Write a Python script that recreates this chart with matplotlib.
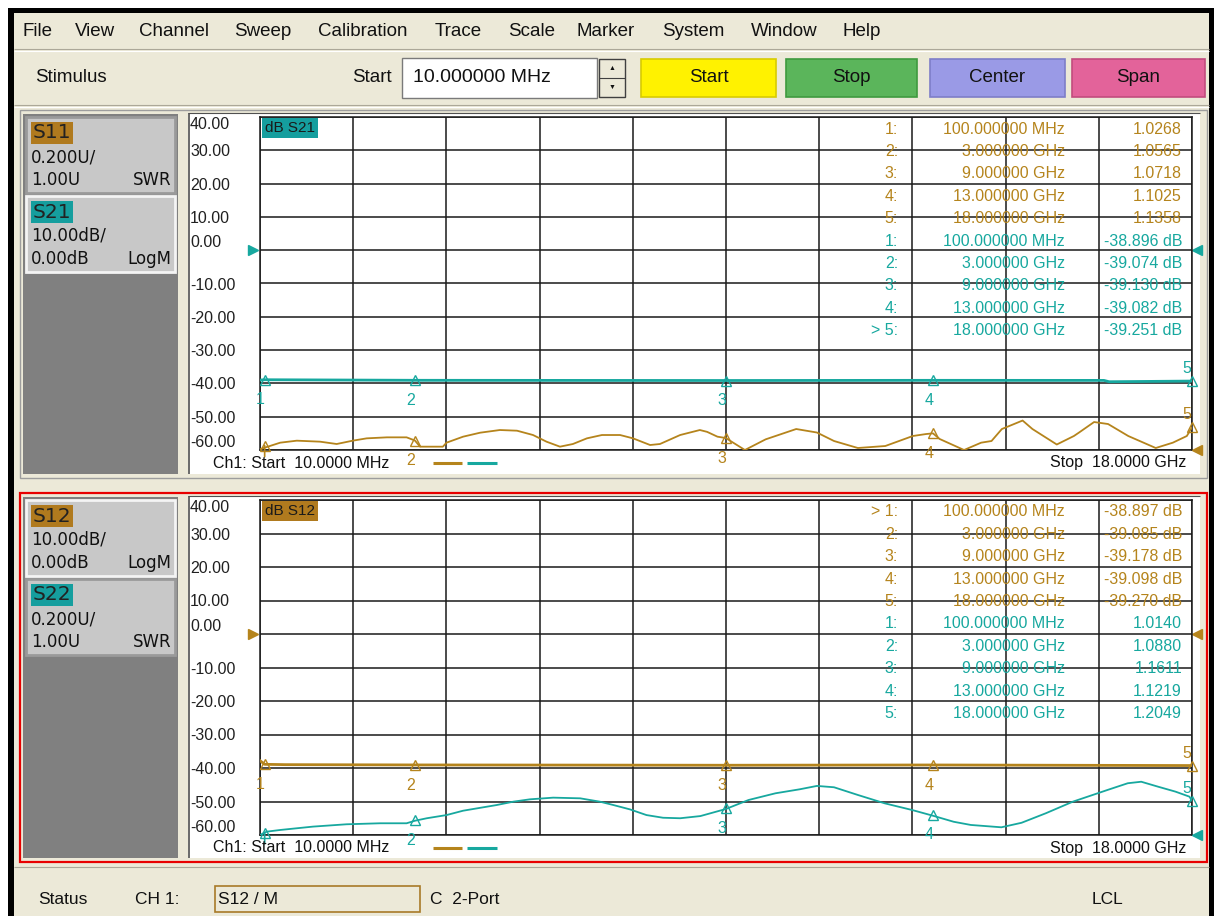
import numpy as np
import matplotlib.pyplot as plt
from matplotlib.patches import Rectangle

plt.rcParams['font.family'] = ['Liberation Sans', 'DejaVu Sans']

W, H = 1216, 916

# ---- sweep / marker settings (GHz) ----
f_start = 0.01
f_stop = 18.0
marker_freqs = [0.1, 3.0, 9.0, 13.0, 18.0]

# marker readouts
s11_marks = [1.0268, 1.0565, 1.0718, 1.1025, 1.1358]          # SWR
s21_marks = [-38.896, -39.074, -39.130, -39.082, -39.251]     # dB
s12_marks = [-38.897, -39.085, -39.178, -39.098, -39.270]     # dB
s22_marks = [1.0140, 1.0880, 1.1611, 1.1219, 1.2049]          # SWR

# traces
s21_f = [0.01, 0.1, 3.0, 6.0, 9.0, 13.0, 16.3, 16.4, 18.0]
s21_db = [-39.0, -38.9, -39.07, -39.1, -39.13, -39.08, -39.1, -39.5, -39.3]

s11_f = [0.01, 0.20, 0.40, 0.72, 1.17, 1.49, 1.80, 2.07, 2.46, 2.84,
         3.00, 3.10, 3.54, 3.61, 3.93, 4.26, 4.64, 4.97, 5.28, 5.54,
         5.80, 6.05, 6.32, 6.61, 6.96, 7.21, 7.54, 7.73, 8.12, 8.50,
         8.64, 8.84, 9.00, 9.37, 9.77, 10.36, 10.76, 11.09, 11.55, 12.08,
         12.61, 12.87, 13.00, 13.13, 13.60, 13.93, 14.13, 14.33, 14.73, 14.92,
         15.39, 15.72, 15.82, 16.11, 16.38, 16.77, 17.30, 17.63, 17.90, 18.00]
s11_swr = [1.005, 1.024, 1.044, 1.056, 1.050, 1.036, 1.056, 1.070, 1.076, 1.076,
           1.057, 1.020, 1.020, 1.044, 1.080, 1.104, 1.120, 1.116, 1.090, 1.050,
           1.020, 1.036, 1.070, 1.090, 1.090, 1.070, 1.030, 1.036, 1.090, 1.120,
           1.109, 1.080, 1.072, 1.000, 1.064, 1.126, 1.105, 1.054, 1.012, 1.024,
           1.084, 1.096, 1.100, 1.066, 1.000, 1.044, 1.054, 1.126, 1.177, 1.126,
           1.033, 1.084, 1.105, 1.168, 1.156, 1.084, 1.012, 1.044, 1.084, 1.136]

s12_f = [0.01, 0.1, 0.5, 3.0, 9.0, 13.0, 18.0]
s12_db = [-37.8, -38.9, -39.0, -39.085, -39.178, -39.098, -39.27]

s22_f = [0.01, 0.14, 0.40, 1.03, 1.68, 2.33, 2.84, 3.00, 3.23, 3.61,
         3.93, 4.58, 4.90, 5.22, 5.67, 6.19, 6.57, 6.83, 7.15, 7.47,
         7.79, 8.12, 8.51, 9.00, 9.44, 9.96, 10.43, 10.76, 11.09, 11.55,
         12.07, 12.60, 13.00, 13.40, 13.73, 14.32, 14.71, 15.18, 15.70, 16.37,
         16.76, 17.02, 17.35, 17.68, 17.95, 18.00]
s22_swr = [1.000, 1.020, 1.030, 1.050, 1.064, 1.070, 1.070, 1.085, 1.100, 1.119,
           1.145, 1.179, 1.199, 1.213, 1.223, 1.219, 1.199, 1.179, 1.153, 1.119,
           1.103, 1.100, 1.113, 1.155, 1.209, 1.249, 1.273, 1.293, 1.285, 1.239,
           1.189, 1.149, 1.115, 1.079, 1.060, 1.046, 1.073, 1.130, 1.199, 1.269,
           1.309, 1.318, 1.288, 1.259, 1.229, 1.205]

db_ticks = [-60, -50, -40, -30, -20, -10, 0, 10, 20, 30, 40]

menu_items = ['File', 'View', 'Channel', 'Sweep', 'Calibration', 'Trace',
              'Scale', 'Marker', 'System', 'Window', 'Help']
button_names = ['Start', 'Stop', 'Center', 'Span']

# ---- colours ----
BEIGE = '#ECE9D8'
BROWN = '#B5841C'
TEAL = '#17A89F'
BROWN_BG = '#B07A1E'
TEAL_BG = '#159E9E'
GRID = '#1A1A1A'

fig = plt.figure(figsize=(W / 100, H / 100), dpi=100)


def px(x0, y0, x1, y1):
    return [x0 / W, 1 - y1 / H, (x1 - x0) / W, (y1 - y0) / H]


bg = fig.add_axes([0, 0, 1, 1], zorder=0)
fg = fig.add_axes([0, 0, 1, 1], zorder=10)
for a in (bg, fg):
    a.set_xlim(0, W)
    a.set_ylim(H, 0)
    a.set_axis_off()


def rect(x0, y0, x1, y1, fc, ec='none', lw=0.0, z=1):
    bg.add_patch(Rectangle((x0, y0), x1 - x0, y1 - y0, facecolor=fc,
                           edgecolor=ec, linewidth=lw, zorder=z))


def hline(y, x0, x1, c, lw=0.8, z=2):
    bg.plot([x0, x1], [y, y], color=c, lw=lw, zorder=z, solid_capstyle='butt')


def vline(x, y0, y1, c, lw=0.8, z=2):
    bg.plot([x, x], [y0, y1], color=c, lw=lw, zorder=z, solid_capstyle='butt')


def txt(x, y, s, size=12, **kw):
    kw.setdefault('va', 'center')
    kw.setdefault('color', '#111111')
    fg.text(x, y, s, fontsize=size, **kw)


# ---- window frame, menu and toolbar ----
rect(8, 8, 1214, H, 'black')
rect(14, 13, 1209, H, BEIGE)

for name, x in zip(menu_items, [22, 75, 139, 234, 318, 435, 508, 577, 662, 751, 843]):
    txt(x, 32, name, 13.5)
hline(49, 14, 1209, '#ACA899')
hline(50.5, 14, 1209, 'white')

txt(35, 78, 'Stimulus', 13.5)
txt(352, 77, 'Start', 13.5)
rect(402, 58, 597, 98, 'white', ec='#7A7A7A', lw=1)
txt(413, 77, '10.000000 MHz', 14)
rect(599, 59, 625, 97, BEIGE, ec='#404040', lw=1)
hline(78, 599, 625, '#404040')
txt(612, 69, '\u25b2', 5, ha='center')
txt(612, 87, '\u25bc', 5, ha='center')

button_cols = ['#FFF200', '#5BB55B', '#9A9AE6', '#E3639A']
button_edges = ['#D8CC00', '#3F9A3F', '#7E7EC8', '#C24C7E']
for name, (x0, x1), fc, ec in zip(button_names,
                                   [(641, 776), (786, 917), (930, 1065), (1072, 1205)],
                                   button_cols, button_edges):
    rect(x0, 59, x1, 97, fc, ec=ec, lw=1.2)
    txt((x0 + x1) / 2, 78, name, 13.5, ha='center')

hline(105, 14, 1209, '#ACA899')
hline(106.5, 14, 1209, 'white')

# ---- status bar ----
hline(867, 14, 1209, '#ACA899')
txt(38, 900, 'Status', 12.5)
txt(135, 900, 'CH 1:', 12.5)
rect(215, 886, 420, 912, BEIGE, ec='#A87A28', lw=1.2)
txt(218, 899, 'S12 / M', 12.5)
txt(430, 900, 'C  2-Port', 12.5)
txt(1092, 900, 'LCL', 12.5)


def fmt_freq(f):
    return f'{f * 1000:.6f} MHz' if f < 1 else f'{f:.6f} GHz'


def panel(frame, grid_top, grid_bot, red, boxes, title, title_bg,
          db_f, db_vals, db_col, db_marks, swr_f, swr_vals, swr_col, swr_marks,
          table, active_row):
    top, bot = frame
    if red:
        rect(20, top, 1207, bot, BEIGE, ec='#E80000', lw=1.6)
    else:
        rect(20, top, 1207, bot, BEIGE, ec='#9D9D9D', lw=1)
    rect(23, top + 4, 178, bot - 4, '#808080')
    rect(188, top + 3, 1200, bot - 4, 'white')
    vline(188.5, top + 3, bot - 4, '#505050', 1.2)
    hline(top + 3, 188, 1200, '#505050', 0.8)

    # trace info boxes
    for i, (name, col, l1, l2, kind, sel) in enumerate(boxes):
        y0 = top + 7 + 79 * i
        rect(26, y0, 175, y0 + 76, '#C8C8C8', ec='#F4F4F4' if sel else '#9A9A9A', lw=2)
        rect(31, y0 + 5, 73, y0 + 27, col)
        txt(33, y0 + 16, name, 14.5, family='DejaVu Sans', color='#222222')
        txt(31, y0 + 40, l1, 12, family='DejaVu Sans')
        txt(31, y0 + 63, l2, 12, family='DejaVu Sans')
        txt(171, y0 + 63, kind, 12, family='DejaVu Sans', ha='right')

    # graticule
    ax = fig.add_axes(px(260, grid_top, 1192, grid_bot), zorder=2)
    ax.set_xlim(f_start, f_stop)
    ax.set_ylim(-60, 40)
    ax.set_xticks(np.linspace(f_start, f_stop, 11))
    ax.set_yticks(db_ticks)
    ax.set_yticklabels([f'{v:.2f}' for v in db_ticks])
    ax.tick_params(axis='x', length=0, labelbottom=False)
    ax.tick_params(axis='y', length=0, pad=50.4, labelsize=11.5, labelcolor='#202020')
    labels = ax.get_yticklabels()
    for lbl in labels:
        lbl.set_horizontalalignment('left')
    labels[0].set_verticalalignment('bottom')
    labels[-1].set_verticalalignment('top')
    labels[6].set_verticalalignment('bottom')
    ax.grid(True, color=GRID, lw=1.1)
    for s in ax.spines.values():
        s.set_color(GRID)
        s.set_linewidth(1.1)

    swr = ax.twinx()
    swr.set_ylim(1.0, 3.0)
    swr.set_axis_off()

    ax.plot(db_f, db_vals, color=db_col, lw=2.0, zorder=3)
    swr.plot(swr_f, swr_vals, color=swr_col, lw=1.3, zorder=3)

    # reference level arrows
    ax.plot([-0.0075], [0], marker='>', ms=7, color=db_col, ls='none',
            transform=ax.get_yaxis_transform(), clip_on=False)
    ax.plot([1.0055], [0], marker='<', ms=7, color=db_col, ls='none',
            transform=ax.get_yaxis_transform(), clip_on=False)
    swr.plot([1.0055], [1.0], marker='<', ms=7, color=swr_col, ls='none',
             transform=swr.get_yaxis_transform(), clip_on=False)

    # markers
    for a, vals, col in ((ax, db_marks, db_col), (swr, swr_marks, swr_col)):
        a.plot(marker_freqs, vals, ls='none', marker='^', ms=7, mfc='none',
               mec=col, mew=1.0, clip_on=False, zorder=4)
        for i, (f, v) in enumerate(zip(marker_freqs, vals)):
            if i == 0 and a is swr:
                # marker 1 number is hidden behind the footer: only its stem shows
                a.annotate('', (f, v), xytext=(0, -8), textcoords='offset points',
                           arrowprops=dict(arrowstyle='-', color=col, lw=1.2,
                                           shrinkA=0, shrinkB=0),
                           annotation_clip=False)
                continue
            off = (-3, -14.5) if i < 4 else (-4, 9)
            a.annotate(str(i + 1), (f, v), xytext=off, textcoords='offset points',
                       color=col, fontsize=11.5, ha='center', va='center',
                       annotation_clip=False, zorder=5)

    # title label
    fg.add_patch(Rectangle((262, grid_top + 1), 56, 20, facecolor=title_bg, zorder=1))
    txt(265, grid_top + 11, title, 11, color='#1A1A1A')

    # marker readout table
    for r, (col, vals, unit) in enumerate(table):
        for i, (f, v) in enumerate(zip(marker_freqs, vals)):
            y = grid_top + 12 + 22.4 * (5 * r + i)
            idx = f'{i + 1}:'
            if (r, i) == active_row:
                idx = '> ' + idx
            txt(898, y, idx, 11.5, ha='right', color=col)
            txt(1065, y, fmt_freq(f), 11.5, ha='right', color=col)
            val = f'{v:.4f}' if unit == 'U' else f'{v:.3f} dB'
            txt(1182, y, val, 11.5, ha='right', color=col)

    # footer
    yf = grid_bot + 13
    txt(213, yf, 'Ch1: Start  10.0000 MHz', 11.5)
    txt(1186, yf, 'Stop  18.0000 GHz', 11.5, ha='right')
    fg.plot([433, 462], [yf, yf], color=BROWN, lw=2.2, solid_capstyle='butt')
    fg.plot([467, 497], [yf, yf], color=TEAL, lw=2.2, solid_capstyle='butt')
    return ax


panel((110, 478), 117, 450, False,
      [('S11', BROWN_BG, '0.200U/', '1.00U', 'SWR', False),
       ('S21', TEAL_BG, '10.00dB/', '0.00dB', 'LogM', True)],
      'dB S21', TEAL_BG,
      s21_f, s21_db, TEAL, s21_marks, s11_f, s11_swr, BROWN, s11_marks,
      [(BROWN, s11_marks, 'U'), (TEAL, s21_marks, 'dB')], (1, 4))

panel((493, 862), 500, 835, True,
      [('S12', BROWN_BG, '10.00dB/', '0.00dB', 'LogM', True),
       ('S22', TEAL_BG, '0.200U/', '1.00U', 'SWR', False)],
      'dB S12', BROWN_BG,
      s12_f, s12_db, BROWN, s12_marks, s22_f, s22_swr, TEAL, s22_marks,
      [(BROWN, s12_marks, 'dB'), (TEAL, s22_marks, 'U')], (0, 0))

fig.savefig('out.png', dpi=100)
